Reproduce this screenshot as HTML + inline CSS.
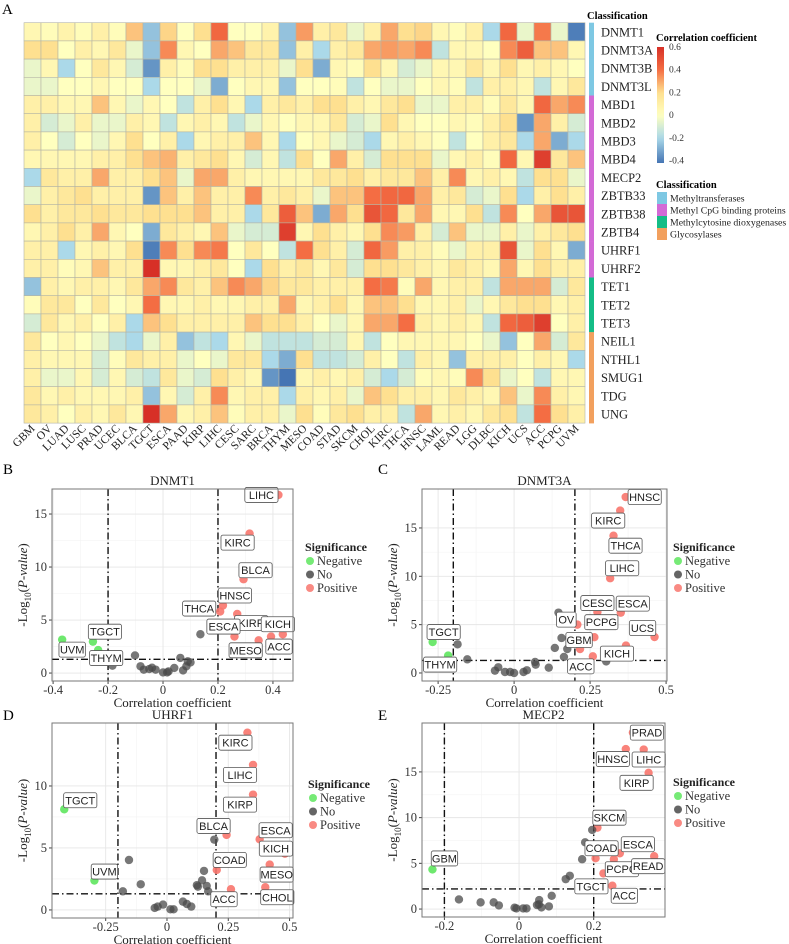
<!DOCTYPE html>
<html><head><meta charset="utf-8"><style>
html,body{margin:0;padding:0;background:#fff;}
svg{display:block;font-family:"Liberation Serif",serif;}
.sans{font-family:"Liberation Sans",sans-serif;}
</style></head><body>
<svg id="fig" width="789" height="944" viewBox="0 0 789 944" xmlns="http://www.w3.org/2000/svg"></svg>
<script>
// ---------- Heatmap data ----------
const cancers=["GBM","OV","LUAD","LUSC","PRAD","UCEC","BLCA","TGCT","ESCA","PAAD","KIRP","LIHC","CESC","SARC","BRCA","THYM","MESO","COAD","STAD","SKCM","CHOL","KIRC","THCA","HNSC","LAML","READ","LGG","DLBC","KICH","UCS","ACC","PCPG","UVM"];
const genes=["DNMT1","DNMT3A","DNMT3B","DNMT3L","MBD1","MBD2","MBD3","MBD4","MECP2","ZBTB33","ZBTB38","ZBTB4","UHRF1","UHRF2","TET1","TET2","TET3","NEIL1","NTHL1","SMUG1","TDG","UNG"];
const geneClass=[0,0,0,0,1,1,1,1,1,1,1,1,1,1,2,2,2,3,3,3,3,3];
const classNames=["Methyltransferases","Methyl CpG binding proteins","Methylcytosine dioxygenases","Glycosylases"];
const corr=[
[0.05,0.02,0.08,0.02,0.1,0.02,0.25,-0.25,0.22,0.0,0.2,0.42,0.0,0.0,0.08,-0.25,0.32,0.1,0.15,-0.05,0.1,0.3,0.2,0.22,0.05,0.02,0.1,-0.2,0.42,-0.05,0.38,-0.05,-0.4],
[0.2,0.2,0.0,0.1,0.05,0.15,-0.05,-0.25,0.35,0.05,0.0,0.3,0.25,0.15,0.15,-0.25,0.1,-0.2,0.1,0.15,0.3,0.32,0.3,0.35,-0.15,0.05,0.05,0.0,0.35,0.45,0.25,0.25,0.05],
[-0.05,0.05,-0.2,0.0,0.15,0.05,-0.1,-0.35,0.1,0.02,0.2,0.2,0.1,0.1,0.1,-0.05,0.2,-0.3,0.05,0.02,0.2,0.05,-0.1,-0.05,0.05,0.05,0.15,0.05,0.2,0.05,0.1,0.05,0.0],
[-0.05,-0.05,0.0,0.0,0.05,0.0,0.0,-0.2,0.0,0.0,-0.05,-0.3,0.0,0.05,0.05,-0.25,0.0,0.0,0.02,-0.15,0.0,-0.05,-0.05,0.0,0.05,0.02,-0.15,0.1,0.1,0.05,-0.15,0.05,0.15],
[0.1,0.1,0.05,0.05,0.25,0.05,-0.05,0.05,0.0,-0.15,0.1,0.2,0.05,-0.2,0.1,0.15,0.1,0.2,0.2,0.1,0.05,0.15,0.2,-0.05,-0.05,0.1,0.1,0.02,0.15,0.05,0.42,0.3,0.35],
[0.1,-0.1,-0.05,0.1,-0.05,-0.05,0.1,0.05,-0.15,0.05,0.1,0.05,-0.15,-0.05,0.05,0.0,0.05,0.05,0.15,-0.1,-0.05,0.2,0.05,0.0,0.0,0.05,0.02,0.1,0.2,-0.35,0.3,0.1,-0.1],
[0.1,0.0,-0.1,0.0,-0.05,0.05,0.2,0.0,0.1,-0.2,0.05,0.1,0.1,0.25,0.05,-0.2,0.0,0.05,-0.05,-0.1,-0.2,0.05,0.1,0.05,0.0,-0.15,0.0,0.1,0.15,-0.2,0.3,-0.3,-0.2],
[0.05,0.05,0.05,0.05,0.1,0.1,0.2,0.25,0.28,0.1,0.15,0.2,0.05,-0.1,0.05,-0.15,0.2,0.0,0.3,0.1,-0.1,0.2,0.2,0.2,-0.05,0.05,0.1,0.02,0.42,0.05,0.55,0.15,0.25],
[-0.2,0.15,0.1,0.1,0.3,0.1,0.1,0.2,0.25,-0.05,0.3,0.3,0.1,0.05,0.05,0.05,0.05,0.15,0.15,0.2,0.1,0.15,0.15,0.25,0.1,0.35,0.05,0.1,0.05,-0.15,0.2,0.2,-0.05],
[-0.05,0.1,0.15,0.2,0.1,0.1,0.1,-0.35,0.25,0.1,0.25,0.1,0.1,0.35,0.1,0.15,0.1,-0.05,0.25,0.25,0.4,0.42,0.42,0.3,0.1,0.15,-0.1,-0.05,0.2,-0.2,0.1,0.2,0.1],
[0.2,0.1,0.15,0.15,0.2,0.15,0.15,0.2,0.2,0.2,0.25,0.1,0.1,-0.2,0.15,0.45,0.25,-0.3,0.3,0.2,0.48,0.42,0.15,0.3,0.05,0.05,0.2,-0.15,0.35,0.0,0.3,0.48,0.48],
[0.05,0.1,0.2,0.1,0.3,0.05,0.0,-0.3,0.15,0.1,0.05,0.25,-0.05,-0.1,-0.1,0.55,0.05,0.2,0.1,0.05,0.2,0.35,0.32,0.1,-0.1,0.25,-0.05,-0.05,0.1,-0.05,0.1,0.15,0.2],
[0.1,0.1,-0.2,0.05,0.1,0.05,0.2,-0.4,0.35,0.2,0.35,0.38,0.0,0.15,0.0,-0.15,0.4,0.2,0.1,-0.1,0.42,0.32,0.1,0.1,0.02,-0.05,0.1,0.1,0.48,-0.05,0.2,0.05,-0.3],
[0.1,0.1,0.02,0.05,0.25,0.1,0.1,0.6,0.05,0.05,0.1,0.15,0.0,-0.2,0.2,0.1,0.15,0.05,0.15,-0.1,0.2,0.2,0.15,0.1,0.05,0.15,0.1,0.05,0.3,0.05,0.2,0.1,0.1],
[-0.25,0.1,0.05,0.1,0.1,0.05,0.15,0.3,0.35,0.15,0.1,0.25,0.35,0.3,0.22,0.15,0.15,0.1,0.1,0.1,0.4,0.38,0.02,0.3,0.05,0.1,0.1,-0.15,0.3,0.3,0.3,-0.1,0.15],
[0.02,0.15,0.15,0.0,0.15,0.0,0.05,0.4,0.05,0.05,0.1,0.05,0.05,0.1,0.1,0.3,0.05,0.1,0.2,0.05,0.25,0.25,0.2,0.05,0.05,0.1,-0.05,0.05,0.15,0.2,0.2,0.05,0.1],
[-0.1,0.15,0.05,0.1,0.0,0.1,-0.2,0.25,0.2,0.1,0.1,0.1,0.1,0.25,0.2,0.2,0.1,0.0,-0.05,0.05,0.3,0.3,0.4,0.1,0.05,0.1,0.05,-0.15,0.42,0.45,0.55,0.0,0.1],
[0.15,0.0,0.05,0.0,-0.05,-0.15,-0.2,-0.05,0.1,-0.25,-0.15,-0.2,0.05,-0.05,-0.15,-0.15,-0.15,-0.1,-0.1,0.05,-0.15,0.0,0.05,0.05,0.05,0.05,0.0,-0.05,-0.25,0.0,0.3,-0.1,0.15],
[0.1,0.05,0.05,0.05,-0.1,0.02,0.15,0.1,0.1,-0.05,0.0,-0.05,0.15,0.15,-0.2,-0.3,0.2,-0.15,-0.15,-0.1,0.1,0.0,-0.15,0.1,0.05,-0.25,0.1,0.1,0.1,0.0,0.1,0.05,-0.2],
[0.1,-0.05,-0.05,0.05,-0.1,0.05,-0.1,-0.15,0.15,-0.05,-0.1,0.2,0.1,0.05,-0.35,-0.42,0.05,0.1,0.05,0.1,-0.1,-0.2,-0.1,0.02,0.05,0.02,0.35,0.2,-0.05,0.0,-0.15,0.05,0.05],
[0.15,0.05,0.1,0.05,0.05,0.05,0.1,-0.25,0.05,-0.1,0.1,0.35,0.05,0.1,0.1,-0.2,0.1,0.05,0.1,-0.05,0.25,0.2,0.1,0.1,0.05,0.15,0.1,0.05,0.25,-0.05,0.35,0.1,0.05],
[0.15,0.1,0.0,0.1,0.05,0.15,0.05,0.6,0.3,0.05,0.1,0.25,0.02,0.1,0.1,-0.05,0.2,0.02,0.15,0.2,0.1,0.1,-0.15,0.3,0.05,0.1,0.05,0.15,0.2,-0.15,0.4,0.2,0.1]
];
const colorTicks=[0.6,0.4,0.2,0,-0.2,-0.4];

// ---------- Volcano data ----------
const bX=[0.42,0.315,0.293,0.218,0.208,0.27,0.26,0.348,0.393,0.436,-0.367,-0.255,-0.236,-0.184,-0.102,-0.082,-0.07,-0.05,-0.04,-0.027,0,0.015,0.02,0.041,0.063,0.073,0.085,0.09,0.1,0.136,0.175];
const bY=[16.8,13.15,8.85,6.37,5.8,5.57,3.44,3.09,3.44,3.66,3.15,2.96,2.17,0.7,1.66,0.64,0.32,0.38,0.5,0.32,0.06,0.06,0.15,0.48,1.43,0.25,0.64,1.1,1.0,3.66,4.4];
const bSig=["P","P","P","P","P","P","P","P","P","P","N","N","N","O","O","O","O","O","O","O","O","O","O","O","O","O","O","O","O","O","O"];
const bLab=["LIHC","KIRC","BLCA","HNSC","THCA","KIRP","ESCA","MESO","ACC","KICH","UVM","TGCT","THYM"];
const bLabDx=[-17,-12,12,12,-21,14,-11,-13,8,-5,10,12,8];
const bLabDy=[0,9,-9,-10,-3,9,-10,10,10,-10,10,-10,8];
const cX=[0.367,0.349,0.327,0.316,0.274,0.351,0.208,0.264,0.217,0.462,0.368,0.259,-0.268,-0.217,-0.186,-0.154,-0.063,-0.052,-0.03,-0.013,0,0.031,0.042,0.069,0.071,0.114,0.134,0.146,0.156,0.164,0.175,0.303];
const cY=[18.2,16.8,14.2,9.8,6.3,6.24,5.0,3.7,2.48,3.72,2.83,1.72,3.2,1.8,2.97,1.41,0.24,0.59,0.1,0.1,0,0.1,0.28,1.14,0.86,0.55,2.59,6.24,3.62,1.66,2.48,1.2];
const cSig=["P","P","P","P","P","P","P","P","P","P","P","P","N","N","O","O","O","O","O","O","O","O","O","O","O","O","O","O","O","O","O","O"];
const cLab=["HNSC","KIRC","THCA","LIHC","CESC","ESCA","OV","PCPG","GBM","UCS","KICH","ACC","TGCT","THYM"];
const cLabDx=[19,-12,12,12,0,12,-11,7,-1,-12,-9,-12,11,-8];
const cLabDy=[0,10,10,-10,-9,-9,-5,-15,-9,-9,8,10,-10,9];
const dX=[0.328,0.351,0.351,0.243,0.378,0.481,0.419,0.203,0.401,0.261,-0.419,-0.296,0.193,-0.155,-0.18,-0.107,0.151,0.143,0.122,0.162,0.168,0.065,0.081,0.099,-0.016,-0.038,-0.05,0.014,0.027,0.126];
const dY=[14.3,11.7,9.3,6.05,5.7,4.54,3.66,3.23,1.83,1.67,8.12,2.37,5.67,4.03,1.5,2.07,3.15,2.39,2.0,1.94,1.5,0.67,0.48,0.27,0.43,0.27,0.16,0.05,0.05,1.88];
const dSig=["P","P","P","P","P","P","P","P","P","P","N","N","O","O","O","O","O","O","O","O","O","O","O","O","O","O","O","O","O","O"];
const dLab=["KIRC","LIHC","KIRP","BLCA","ESCA","KICH","MESO","COAD","CHOL","ACC","TGCT","UVM"];
const dLabDx=[-12,-13,-13,-13,16,-9,7,13,12,-7,16,10];
const dLabDy=[10,10,10,-9,-9,-5,10,-10,10,10,-9,-9];
const eX=[0.305,0.286,0.334,0.347,0.21,0.27,0.205,0.254,0.362,0.226,0.25,-0.232,0.196,0.177,0.169,0.125,0.136,0.0875,0.054,0.053,0.06,0.08,0.048,-0.054,-0.068,-0.103,-0.161,-0.012,-0.007,0.011,0.02];
const eY=[19.3,17.5,17.45,14.9,8.9,6.1,5.56,5.45,5.78,3.9,2.55,4.33,8.65,7.3,5.45,3.27,3.64,1.45,0.98,0.51,0.18,0.29,0.44,0.4,0.73,0.73,1.05,0.15,0.07,0.07,0.07];
const eSig=["P","P","P","P","P","P","P","P","P","P","P","N","O","O","O","O","O","O","O","O","O","O","O","O","O","O","O","O","O","O","O"];
const eLab=["PRAD","HNSC","LIHC","KIRP","SKCM","ESCA","COAD","PCPG","READ","TGCT","ACC","GBM"];
const eLabDx=[14,-13,5,-12,12,18,6,8,-6,-12,12,12];
const eLabDy=[0,10,10,10,-10,-9,-10,10,10,13,10,-11];

const NS="http://www.w3.org/2000/svg";
const svg=document.getElementById("fig");
function el(tag,attrs,parent,text){const e=document.createElementNS(NS,tag);for(const k in attrs)e.setAttribute(k,attrs[k]);if(text!==undefined)e.textContent=text;(parent||svg).appendChild(e);return e;}

const stops=[[-0.42,[69,117,180]],[-0.2,[171,217,233]],[0,[255,255,191]],[0.2,[254,224,144]],[0.4,[244,109,67]],[0.6,[215,48,39]]];
function col(v){if(v<=stops[0][0])return `rgb(${stops[0][1]})`;for(let i=0;i<stops.length-1;i++){const a=stops[i],b=stops[i+1];if(v<=b[0]){const t=(v-a[0])/(b[0]-a[0]);const c=a[1].map((x,j)=>Math.round(x+(b[1][j]-x)*t));return `rgb(${c.join(',')})`;}}return `rgb(${stops[stops.length-1][1]})`;}

[["A",2,14],["B",3,474],["C",378,474],["D",3,720],["E",378,720]].forEach(p=>{const t=el("text",{x:p[1],y:p[2],"font-size":15},svg,p[0]);});

const hx0=24,hy0=22.7,cw=17,rh=18.2;
const hm=el("g",{});


function hxs(i){return hx0+i*cw;}
function hys(j){return hy0+j*rh;}
genes.forEach((g,j)=>{cancers.forEach((c,i)=>{const r=el("rect",{x:hxs(i),y:hys(j),width:cw,height:rh,fill:col(corr[j][i]),stroke:"#b5b5a5","stroke-width":0.6},hm);

});});
cancers.forEach((c,i)=>{const cx=hxs(i)+cw/2+3,cy=hys(genes.length)+6;const t=el("text",{x:cx,y:cy,"font-size":11.5,"text-anchor":"end",transform:`rotate(-45 ${cx} ${cy})`,fill:"#222"},svg,c);

});
const classCols=["#7ec8e3","#d36ad6","#14bd86","#f2a05e"];
genes.forEach((g,j)=>{const r=el("rect",{x:589,y:hys(j),width:5,height:rh+0.3,fill:classCols[geneClass[j]]});


const t=el("text",{x:601,y:hys(j)+rh/2+4.5,"font-size":12.5,fill:"#222"},svg,g);

});
let tt=el("text",{x:587,y:19,"font-size":10.5,"font-weight":"bold"},svg,"Classification");


tt=el("text",{x:656,y:41,"font-size":10.5,"font-weight":"bold"},svg,"Correlation coefficient");

const defs=el("defs",{});const lg=el("linearGradient",{id:"cb",x1:0,y1:0,x2:0,y2:1},defs);
for(let k=0;k<=20;k++){const v=0.6-k*(1.02/20);el("stop",{offset:(k/20),"stop-color":col(v)},lg);}
const cbTop=47,cbBot=163;function cby(v){return cbTop+(0.6-v)/(1.02)*(cbBot-cbTop);}
tt=el("rect",{x:657,y:cbTop,width:7,height:cbBot-cbTop,fill:"url(#cb)"});

colorTicks.forEach(v=>{const t=el("text",{x:669,y:cby(v)+3,"font-size":9.5,fill:"#333"},svg,String(v));
});
tt=el("text",{x:656,y:188,"font-size":10.5,"font-weight":"bold"},svg,"Classification");

classNames.forEach((n,k)=>{const y=192+k*12;const r=el("rect",{x:657,y:y,width:10,height:12,fill:classCols[k]});

const t=el("text",{x:670,y:y+9.5,"font-size":9.8,fill:"#222"},svg,n);
});

const sigCol={P:"#f8766d",N:"#5ee65e",O:"#4a4a4a"};
function fmt(v){return String(v);}
function volcano(cfg){
  const {L,R,T,B,xd,yd,xt,yt,X,Y,S,LAB,LDX,LDY,title,hline,id,legX,legY}=cfg;
  const g=el("g",{});
  
  
  const xs=v=>L+(v-xd[0])/(xd[1]-xd[0])*(R-L);
  const ys=v=>B-(v-yd[0])/(yd[1]-yd[0])*(B-T);
  el("rect",{x:L,y:T,width:R-L,height:B-T,fill:"#fff"},g);
  for(let k=0;k<xt.length-1;k++){const m=(xt[k]+xt[k+1])/2;el("line",{x1:xs(m),x2:xs(m),y1:T,y2:B,stroke:"#f3f3f3","stroke-width":0.6},g);}
  for(let k=0;k<yt.length-1;k++){const m=(yt[k]+yt[k+1])/2;el("line",{x1:L,x2:R,y1:ys(m),y2:ys(m),stroke:"#f3f3f3","stroke-width":0.6},g);}
  xt.forEach(v=>{el("line",{x1:xs(v),x2:xs(v),y1:T,y2:B,stroke:"#e6e6e6","stroke-width":0.9},g);
    el("line",{x1:xs(v),x2:xs(v),y1:B,y2:B+3,stroke:"#444"},g);
    const t=el("text",{x:xs(v),y:B+13,"font-size":12.5,"text-anchor":"middle",fill:"#333"},g,fmt(v));
    });
  yt.forEach(v=>{el("line",{x1:L,x2:R,y1:ys(v),y2:ys(v),stroke:"#e6e6e6","stroke-width":0.9},g);
    el("line",{x1:L-3,x2:L,y1:ys(v),y2:ys(v),stroke:"#444"},g);
    const t=el("text",{x:L-5,y:ys(v)+4,"font-size":12.5,"text-anchor":"end",fill:"#333"},g,String(v));
    });
  const dash="7,3,1.5,3";
  [-0.2,0.2].forEach(v=>{const l=el("line",{x1:xs(v),x2:xs(v),y1:T,y2:B,stroke:"#111","stroke-width":1.4,"stroke-dasharray":dash},g);
    });
  const hl=el("line",{x1:L,x2:R,y1:ys(hline),y2:ys(hline),stroke:"#111","stroke-width":1.4,"stroke-dasharray":dash},g);
  
  X.forEach((x,i)=>{const c=el("circle",{cx:xs(x),cy:ys(Y[i]),r:4.2,fill:sigCol[S[i]],"fill-opacity":S[i]==="O"?0.75:0.9},g);
    });
  LAB.forEach((lab,i)=>{const px=xs(X[i])+LDX[i],py=ys(Y[i])+LDY[i];const w=lab.length*6.8+6;
    const r=el("rect",{x:px-w/2,y:py-7.5,width:w,height:15,rx:2,fill:"#fff",stroke:"#555","stroke-width":0.8},g);
    
    const t=el("text",{x:px,y:py+4,"font-size":11,"text-anchor":"middle",class:"sans",fill:"#222"},g,lab);
    });
  el("rect",{x:L,y:T,width:R-L,height:B-T,fill:"none",stroke:"#777","stroke-width":1},g);
  let t=el("text",{x:(L+R)/2,y:T-4,"font-size":13,"text-anchor":"middle",fill:"#222"},g,title);
  
  t=el("text",{x:(L+R)/2,y:B+26,"font-size":13,"text-anchor":"middle",fill:"#222"},g,"Correlation coefficient");
  
  const cy=(T+B)/2,cx=L-25;
  t=el("text",{x:cx,y:cy,"font-size":13,"text-anchor":"middle",transform:`rotate(-90 ${cx} ${cy})`,fill:"#222"},g);
  
  el("tspan",{},t,"-Log");el("tspan",{"font-size":9,dy:4},t,"10");el("tspan",{dy:-4},t,"(");el("tspan",{"font-style":"italic"},t,"P-value");el("tspan",{},t,")");
  t=el("text",{x:legX,y:legY,"font-size":12,"font-weight":"bold",fill:"#222"},g,"Significance");
  
  [["N","Negative"],["O","No"],["P","Positive"]].forEach((p,k)=>{const y=legY+14+k*13.5;
    const c=el("circle",{cx:legX+5,cy:y-4,r:4,fill:sigCol[p[0]],"fill-opacity":0.85},g);
    
    const tx=el("text",{x:legX+12,y:y,"font-size":12.5,fill:"#333"},g,p[1]);
    });
}
volcano({id:"dnmt1",title:"DNMT1",L:52,R:293,T:489,B:681,xd:[-0.404,0.473],yd:[-0.75,17.36],xt:[-0.4,-0.2,0,0.2,0.4],yt:[0,5,10,15],X:bX,Y:bY,S:bSig,LAB:bLab,LDX:bLabDx,LDY:bLabDy,hline:1.3,legX:305,legY:551});
volcano({id:"dnmt3a",title:"DNMT3A",L:422,R:667,T:489,B:681,xd:[-0.303,0.503],yd:[-0.83,19.03],xt:[-0.25,0,0.25,0.5],yt:[0,5,10,15],X:cX,Y:cY,S:cSig,LAB:cLab,LDX:cLabDx,LDY:cLabDy,hline:1.3,legX:673,legY:551});
volcano({id:"uhrf1",title:"UHRF1",L:52,R:293,T:723,B:918,xd:[-0.469,0.514],yd:[-0.65,15.08],xt:[-0.25,0,0.25,0.5],yt:[0,5,10],X:dX,Y:dY,S:dSig,LAB:dLab,LDX:dLabDx,LDY:dLabDy,hline:1.3,legX:308,legY:788});
volcano({id:"mecp2",title:"MECP2",L:422,R:665,T:723,B:917,xd:[-0.26,0.391],yd:[-0.87,20.35],xt:[-0.2,0,0.2],yt:[0,5,10,15],X:eX,Y:eY,S:eSig,LAB:eLab,LDX:eLabDx,LDY:eLabDy,hline:2.2,legX:673,legY:786});
</script>
</body></html>
